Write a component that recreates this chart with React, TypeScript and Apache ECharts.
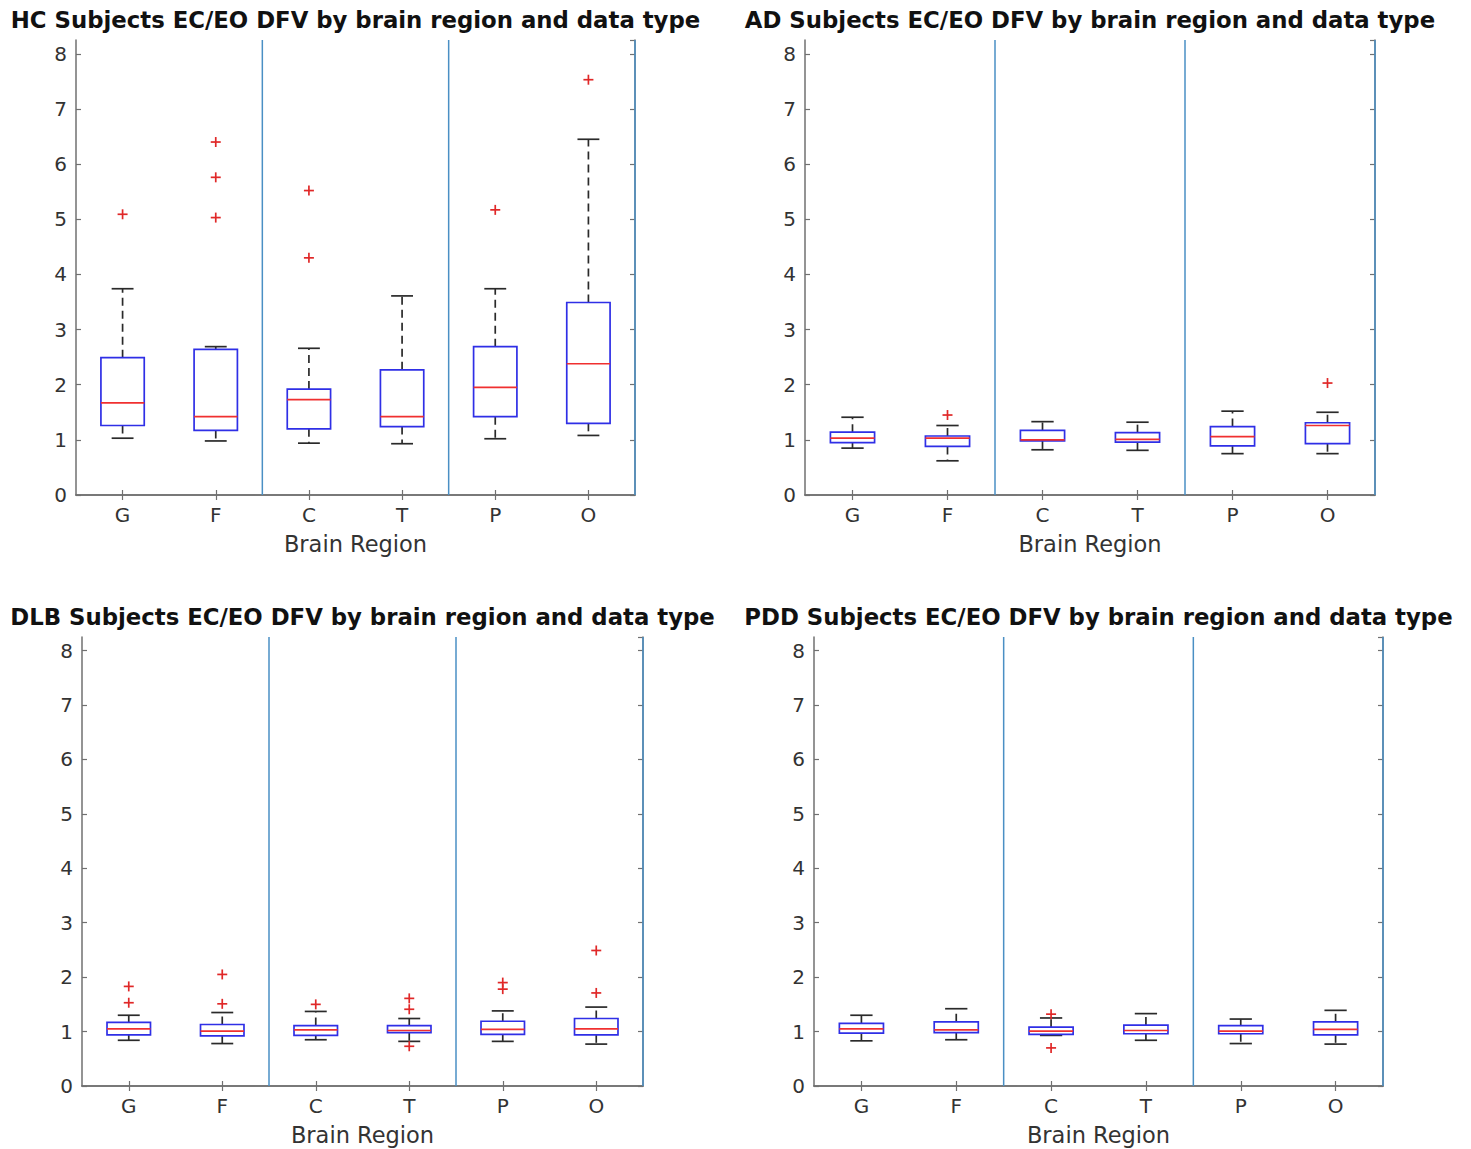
import React, { useEffect, useRef } from "react";
import * as echarts from "echarts";

const categories = ["G", "F", "C", "T", "P", "O"];
const yTicksMax = 8.25;

// [min whisker, Q1, median, Q3, max whisker] per category
const hcBoxes = [
  [1.03, 1.26, 1.67, 2.49, 3.74],
  [0.98, 1.17, 1.42, 2.64, 2.69],
  [0.94, 1.2, 1.73, 1.92, 2.66],
  [0.93, 1.24, 1.42, 2.27, 3.61],
  [1.02, 1.42, 1.95, 2.69, 3.74],
  [1.08, 1.3, 2.38, 3.49, 6.45],
];
const hcOutliers = [
  [0, 5.09],
  [1, 6.4],
  [1, 5.76],
  [1, 5.03],
  [2, 5.52],
  [2, 4.3],
  [4, 5.17],
  [5, 7.53],
];

const adBoxes = [
  [0.85, 0.95, 1.03, 1.14, 1.41],
  [0.62, 0.88, 1.03, 1.07, 1.26],
  [0.82, 0.98, 1.0, 1.17, 1.33],
  [0.81, 0.96, 1.01, 1.13, 1.32],
  [0.75, 0.89, 1.06, 1.24, 1.52],
  [0.75, 0.93, 1.26, 1.31, 1.5],
];
const adOutliers = [
  [1, 1.45],
  [5, 2.03],
];

const dlbBoxes = [
  [0.84, 0.94, 1.05, 1.17, 1.3],
  [0.78, 0.92, 1.01, 1.13, 1.35],
  [0.85, 0.93, 1.03, 1.11, 1.37],
  [0.82, 0.98, 1.02, 1.11, 1.24],
  [0.82, 0.95, 1.04, 1.19, 1.38],
  [0.77, 0.94, 1.05, 1.24, 1.45],
];
const dlbOutliers = [
  [0, 1.83],
  [0, 1.53],
  [1, 2.05],
  [1, 1.51],
  [2, 1.5],
  [3, 1.61],
  [3, 1.41],
  [3, 0.73],
  [4, 1.9],
  [4, 1.78],
  [5, 2.49],
  [5, 1.71],
];

const pddBoxes = [
  [0.83, 0.97, 1.05, 1.15, 1.3],
  [0.85, 0.98, 1.03, 1.18, 1.42],
  [0.93, 0.95, 1.01, 1.08, 1.25],
  [0.84, 0.96, 1.02, 1.12, 1.33],
  [0.78, 0.96, 1.01, 1.11, 1.23],
  [0.77, 0.94, 1.04, 1.18, 1.39],
];
const pddOutliers = [
  [2, 1.32],
  [2, 0.7],
];

// separator lines drawn at the right boundary of these category indices
const separatorAfter = [1, 3, 5];

const titles = [
  "HC Subjects EC/EO DFV by brain region and data type",
  "AD Subjects EC/EO DFV by brain region and data type",
  "DLB Subjects EC/EO DFV by brain region and data type",
  "PDD Subjects EC/EO DFV by brain region and data type",
];

const panels = [
  { boxes: hcBoxes, outliers: hcOutliers, grid: { left: 76, top: 40, width: 559, height: 455 } },
  { boxes: adBoxes, outliers: adOutliers, grid: { left: 805, top: 40, width: 570, height: 455 } },
  { boxes: dlbBoxes, outliers: dlbOutliers, grid: { left: 82, top: 637, width: 561, height: 449 } },
  { boxes: pddBoxes, outliers: pddOutliers, grid: { left: 814, top: 637, width: 569, height: 449 } },
];

const FONT = "DejaVu Sans";
const AXIS_COLOR = "#707070";
const BOX_COLOR = "#2f2fe6";
const MED_COLOR = "#f03030";
const WHISKER_COLOR = "#2a2a2a";
const OUT_COLOR = "#e02828";
const SEP_COLOR = "#4a8fc4";

function buildOption() {
  const grid: any[] = [];
  const xAxis: any[] = [];
  const yAxis: any[] = [];
  const series: any[] = [];
  const graphic: any[] = [];

  panels.forEach((p, k) => {
    grid.push({ ...p.grid, containLabel: false });
    const xi = k * 2;
    const yi = k * 2;
    const axisLine = { show: true, lineStyle: { color: AXIS_COLOR, width: 1.5 } };
    const tick = { show: true, inside: true, length: 5, lineStyle: { color: AXIS_COLOR, width: 1.2 } };
    xAxis.push({
      type: "category",
      gridIndex: k,
      position: "bottom",
      data: categories,
      boundaryGap: true,
      axisLine,
      axisTick: { ...tick, alignWithLabel: true },
      axisLabel: { color: "#333", fontFamily: FONT, fontSize: 20, margin: 10 },
      splitLine: { show: false },
      name: "Brain Region",
      nameLocation: "middle",
      nameGap: 37,
      nameTextStyle: { color: "#333", fontFamily: FONT, fontSize: 22.5 },
    });
    xAxis.push({
      type: "category",
      gridIndex: k,
      position: "top",
      data: categories,
      boundaryGap: true,
      axisLine,
      axisTick: { ...tick, alignWithLabel: true },
      axisLabel: { show: false },
      splitLine: { show: false },
    });
    const yBase = {
      type: "value",
      gridIndex: k,
      min: 0,
      max: yTicksMax,
      interval: 1,
      axisLine,
      axisTick: tick,
      splitLine: { show: false },
    };
    yAxis.push({
      ...yBase,
      position: "left",
      axisLabel: {
        color: "#333",
        fontFamily: FONT,
        fontSize: 20,
        margin: 9,
        showMaxLabel: false,
        formatter: (v: number) => (Number.isInteger(v) ? String(v) : ""),
      },
    });
    yAxis.push({ ...yBase, position: "right", axisLabel: { show: false } });

    // separators
    series.push({
      type: "custom",
      xAxisIndex: xi,
      yAxisIndex: yi,
      data: separatorAfter.map((i) => [i, 0]),
      encode: { x: 0, y: 1 },
      silent: true,
      z: 1,
      renderItem: (params: any, api: any) => {
        const i = api.value(0);
        const bottom = api.coord([i, 0]);
        const top = api.coord([i, yTicksMax]);
        const band = api.size([1, 0])[0];
        const x = bottom[0] + band / 2;
        return {
          type: "line",
          shape: { x1: x, y1: bottom[1], x2: x, y2: top[1] },
          style: { stroke: SEP_COLOR, lineWidth: 1.5 },
        };
      },
    });

    // boxes
    series.push({
      type: "custom",
      xAxisIndex: xi,
      yAxisIndex: yi,
      data: p.boxes.map((b, i) => [i, ...b]),
      encode: { x: 0, y: [1, 2, 3, 4, 5] },
      silent: true,
      z: 3,
      renderItem: (params: any, api: any) => {
        const i = api.value(0);
        const lo = api.coord([i, api.value(1)]);
        const q1 = api.coord([i, api.value(2)]);
        const med = api.coord([i, api.value(3)]);
        const q3 = api.coord([i, api.value(4)]);
        const hi = api.coord([i, api.value(5)]);
        const band = api.size([1, 0])[0];
        const bw = (band * 0.465) / 2;
        const cw = (band * 0.235) / 2;
        const x = lo[0];
        const wStyle = { stroke: WHISKER_COLOR, lineWidth: 1.7, lineDash: [8, 5] };
        const cStyle = { stroke: WHISKER_COLOR, lineWidth: 1.7 };
        return {
          type: "group",
          children: [
            { type: "line", shape: { x1: x, y1: q3[1], x2: x, y2: hi[1] }, style: wStyle },
            { type: "line", shape: { x1: x, y1: q1[1], x2: x, y2: lo[1] }, style: wStyle },
            { type: "line", shape: { x1: x - cw, y1: hi[1], x2: x + cw, y2: hi[1] }, style: cStyle },
            { type: "line", shape: { x1: x - cw, y1: lo[1], x2: x + cw, y2: lo[1] }, style: cStyle },
            {
              type: "rect",
              shape: { x: x - bw, y: q3[1], width: 2 * bw, height: q1[1] - q3[1] },
              style: { fill: "none", stroke: BOX_COLOR, lineWidth: 1.7 },
            },
            {
              type: "line",
              shape: { x1: x - bw, y1: med[1], x2: x + bw, y2: med[1] },
              style: { stroke: MED_COLOR, lineWidth: 1.7 },
            },
          ],
        };
      },
    });

    // outliers
    series.push({
      type: "custom",
      xAxisIndex: xi,
      yAxisIndex: yi,
      data: p.outliers,
      encode: { x: 0, y: 1 },
      silent: true,
      z: 4,
      renderItem: (params: any, api: any) => {
        const c = api.coord([api.value(0), api.value(1)]);
        const s = 5;
        const st = { stroke: OUT_COLOR, lineWidth: 1.7 };
        return {
          type: "group",
          children: [
            { type: "line", shape: { x1: c[0] - s, y1: c[1], x2: c[0] + s, y2: c[1] }, style: st },
            { type: "line", shape: { x1: c[0], y1: c[1] - s, x2: c[0], y2: c[1] + s }, style: st },
          ],
        };
      },
    });

    graphic.push({
      type: "text",
      x: p.grid.left + p.grid.width / 2,
      y: p.grid.top - 20,
      style: {
        text: titles[k],
        fill: "#111",
        font: `bold 22.8px '${FONT}'`,
        textAlign: "center",
        textVerticalAlign: "middle",
      },
    });
  });

  return { animation: false, backgroundColor: "#fff", grid, xAxis, yAxis, series, graphic };
}

export default function App() {
  const ref = useRef<HTMLDivElement>(null);
  useEffect(() => {
    if (!ref.current) return;
    const chart = echarts.init(ref.current, undefined, { renderer: "svg" });
    chart.setOption(buildOption() as any);
    return () => chart.dispose();
  }, []);
  return (
    <div
      ref={ref}
      style={{ position: "absolute", left: 0, top: 0, width: 1471, height: 1149, background: "#fff" }}
    />
  );
}
